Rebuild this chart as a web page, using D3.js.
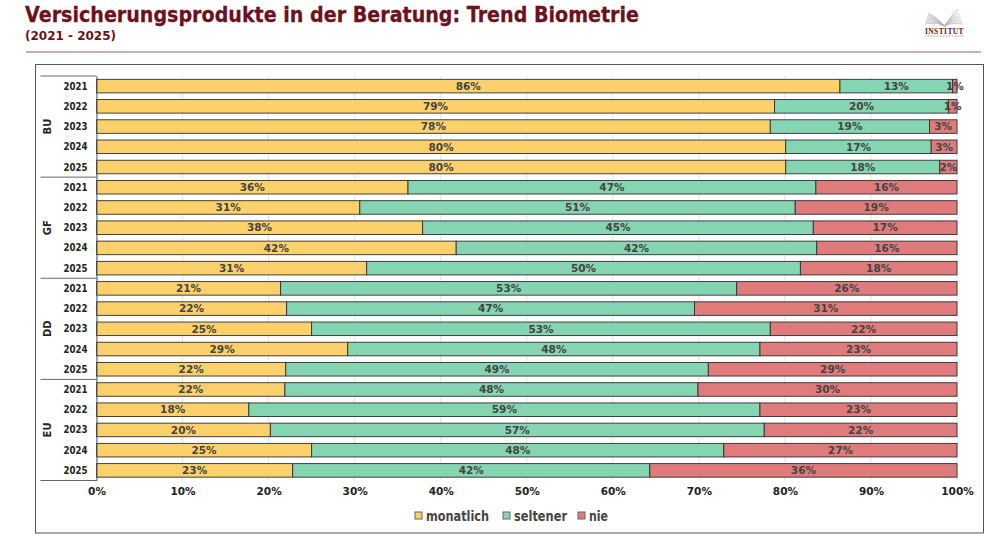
<!DOCTYPE html>
<html>
<head>
<meta charset="utf-8">
<script src="https://d3js.org/d3.v7.min.js"></script>
<style>
  html, body { margin: 0; padding: 0; background: #fff; }
  svg { display: block; }
  text { font-family: "DejaVu Sans", sans-serif; font-weight: bold; }
</style>
</head>
<body>
<svg id="chart" width="1000" height="538"></svg>
<script>
// chart data
var groups = ['BU', 'GF', 'DD', 'EU']
var years = ['2021', '2022', '2023', '2024', '2025']
var seriesNames = ['monatlich', 'seltener', 'nie']
var colors = ['#fcd16b', '#86d5b2', '#e07b7b']
var xTicks = [0, 10, 20, 30, 40, 50, 60, 70, 80, 90, 100]

var monatlich = [86.4, 78.8, 78.3, 80.1, 80.1, 36.2, 30.6, 37.9, 41.8, 31.4, 21.4, 22.1, 25.0, 29.2, 22.0, 21.9, 17.7, 20.2, 25.0, 22.8]
var seltener = [13.1, 20.2, 18.5, 16.9, 17.9, 47.4, 50.6, 45.4, 41.9, 50.4, 53.0, 47.4, 53.3, 47.9, 49.1, 48.0, 59.4, 57.4, 47.9, 41.5]
var nie = [0.5, 1.0, 3.2, 3.0, 2.0, 16.4, 18.8, 16.7, 16.3, 18.2, 25.6, 30.5, 21.7, 22.9, 28.9, 30.1, 22.9, 22.4, 27.1, 35.7]

var svg = d3.select('#chart')

// rows: one per group + year
var rows = []
groups.forEach(function (g) {
  years.forEach(function (y) {
    var i = rows.length
    rows.push({ key: g + y, group: g, year: y, monatlich: monatlich[i], seltener: seltener[i], nie: nie[i] })
  })
})

var x = d3.scaleLinear().domain([0, 100]).range([96.5, 957])
var y = d3.scaleBand().domain(rows.map(function (d) { return d.key })).range([76, 480.5]).paddingInner(0.33).paddingOuter(0.165)

// header, the original type is narrower than DejaVu so squeeze it to the same width
svg.append('text').attr('x', 25).attr('y', 22).attr('font-size', 20.5).attr('fill', '#6b1220')
  .attr('stroke', '#6b1220').attr('stroke-width', 0.3)
  .attr('textLength', 614).attr('lengthAdjust', 'spacingAndGlyphs')
  .text('Versicherungsprodukte in der Beratung: Trend Biometrie')
svg.append('text').attr('x', 25).attr('y', 40).attr('font-size', 13).attr('fill', '#6b1220')
  .attr('textLength', 91).attr('lengthAdjust', 'spacingAndGlyphs')
  .text('(2021 - 2025)')
svg.append('line').attr('x1', 26).attr('x2', 981).attr('y1', 52).attr('y2', 52)
  .attr('stroke', '#8f5f63').attr('stroke-width', 1.2)

// logo: open book as a fan of thin lines
var logo = svg.append('g').attr('stroke', '#aaa').attr('stroke-width', 0.6).attr('fill', 'none')
d3.range(8).forEach(function (i) {
  logo.append('path').attr('d', 'M944.5 26 Q' + (937 - i * 0.5) + ' ' + (22 - i * 1.1) + ' ' + (925 + i * 0.45) + ' ' + (24 - i * 1.5))
  logo.append('path').attr('d', 'M944.5 26 Q' + (952 + i * 0.2) + ' ' + (22 - i * 1.3) + ' ' + (963 - i * 0.85) + ' ' + (24 - i * 2.1))
})
svg.append('text').attr('x', 944.5).attr('y', 34).attr('text-anchor', 'middle').attr('font-size', 7.5)
  .style('font-family', '"Liberation Serif", serif').attr('letter-spacing', 0.4).attr('fill', '#6b1220').text('INSTITUT')
svg.append('line').attr('x1', 925).attr('x2', 964).attr('y1', 36).attr('y2', 36)
  .attr('stroke', '#b9a5a8').attr('stroke-width', 1).attr('stroke-dasharray', '1 0.5')

// outer frame
svg.append('rect').attr('x', 35.5).attr('y', 64.5).attr('width', 948).attr('height', 468.5)
  .attr('fill', '#fff').attr('stroke', '#555').attr('stroke-width', 1)

// grid lines
svg.append('g').selectAll('line').data(xTicks).enter().append('line')
  .attr('x1', function (d) { return x(d) }).attr('x2', function (d) { return x(d) })
  .attr('y1', 76).attr('y2', 480.5)
  .attr('stroke', '#e3e3e3').attr('stroke-width', 1)

// stacked bars
var stack = d3.stack().keys(seriesNames)
var layers = svg.append('g').selectAll('g').data(stack(rows)).enter().append('g')
  .attr('fill', function (d, i) { return colors[i] })

layers.selectAll('rect').data(function (d) { return d }).enter().append('rect')
  .attr('x', function (d) { return x(d[0]) })
  .attr('y', function (d) { return y(d.data.key) })
  .attr('width', function (d) { return x(d[1]) - x(d[0]) })
  .attr('height', y.bandwidth())
  .attr('stroke', '#2f3030')
  .attr('stroke-width', 0.9)

// value labels in the middle of each segment
layers.selectAll('text').data(function (d) { return d }).enter().append('text')
  .attr('x', function (d) { return (x(d[0]) + x(d[1])) / 2 })
  .attr('y', function (d) { return y(d.data.key) + y.bandwidth() / 2 })
  .attr('dy', '.36em')
  .attr('text-anchor', 'middle')
  .attr('font-size', 10.5)
  .attr('fill', '#444')
  .text(function (d) { return Math.round(d[1] - d[0]) + '%' })

// x axis
var xAxis = svg.append('g').attr('transform', 'translate(0,480.5)')
  .call(d3.axisBottom(x).tickValues(xTicks).tickSize(0).tickPadding(7).tickFormat(function (d) { return d + '%' }))
xAxis.select('.domain').remove()
xAxis.selectAll('text').attr('font-size', 10.5).attr('fill', '#222').style('font-family', '"DejaVu Sans", sans-serif')

// y axis: years
var yAxis = svg.append('g').attr('transform', 'translate(96.5,0)')
  .call(d3.axisLeft(y).tickSize(0).tickPadding(9).tickFormat(function (d) { return d.slice(2) }))
yAxis.select('.domain').attr('stroke', '#555')
yAxis.selectAll('text').attr('font-size', 11).attr('fill', '#222').style('font-family', '"DejaVu Sans", sans-serif')
  .attr('textLength', 24).attr('lengthAdjust', 'spacingAndGlyphs')

// group separators and group names
var groupStep = (480.5 - 76) / groups.length
var groupY = d3.scaleBand().domain(groups).range([76, 480.5])
svg.append('g').selectAll('line').data(groups.concat(['end'])).enter().append('line')
  .attr('x1', 40.5).attr('x2', 96.5)
  .attr('y1', function (d, i) { return 76 + i * groupStep })
  .attr('y2', function (d, i) { return 76 + i * groupStep })
  .attr('stroke', '#666').attr('stroke-width', 1)
svg.append('g').selectAll('text').data(groups).enter().append('text')
  .attr('transform', function (d) { return 'translate(47,' + (groupY(d) + groupY.bandwidth() / 2) + ') rotate(-90)' })
  .attr('dy', '.36em')
  .attr('text-anchor', 'middle')
  .attr('font-size', 10)
  .attr('fill', '#222')
  .text(function (d) { return d })

// legend
var legendX = [415, 503, 578]
var legendW = [63, 53, 19]
var legend = svg.append('g').selectAll('g').data(seriesNames).enter().append('g')
  .attr('transform', function (d, i) { return 'translate(' + legendX[i] + ',512)' })
legend.append('rect').attr('width', 7).attr('height', 7)
  .attr('fill', function (d, i) { return colors[i] })
  .attr('stroke', '#666').attr('stroke-width', 1)
legend.append('text').attr('x', 11).attr('y', 8.5).attr('font-size', 13.5).attr('fill', '#444')
  .attr('textLength', function (d, i) { return legendW[i] }).attr('lengthAdjust', 'spacingAndGlyphs')
  .text(function (d) { return d })
</script>
</body>
</html>
